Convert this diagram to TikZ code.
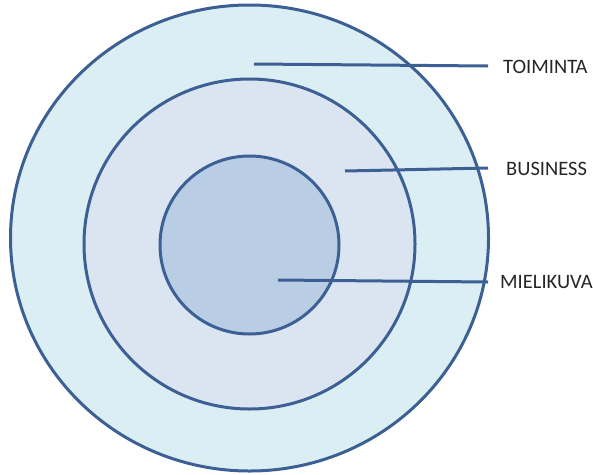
\documentclass[tikz,border=0pt]{standalone}
\usepackage{fontspec}
\setmainfont{Carlito}
\usetikzlibrary{shapes.geometric}
\definecolor{ringline}{HTML}{3D6094}
\definecolor{outerfill}{HTML}{DAEEF3}
\definecolor{midfill}{HTML}{DBE5F1}
\definecolor{innerfill}{HTML}{B9CDE5}
\tikzset{
  ring/.style={draw=ringline, line width=3pt},
  leader/.style={draw=ringline, line width=3pt},
  lbl/.style={anchor=west, inner sep=0pt, font=\fontsize{20.5}{24}\selectfont, text=black!85}
}
\begin{document}
\begin{tikzpicture}[x=1pt,y=-1pt]
\useasboundingbox (0,0) rectangle (593,474);
\fill[white] (0,0) rectangle (593,474);
\draw[ring, fill=outerfill] (249.5,238) ellipse [x radius=239, y radius=233];
\draw[ring, fill=midfill] (249.5,244) ellipse [x radius=165.5, y radius=165];
\draw[ring, fill=innerfill] (249.5,245) ellipse [x radius=89.5, y radius=89];
\node[lbl] (t) at (503,67) {TOIMINTA};
\node[lbl] (b) at (506,169) {BUSINESS};
\node[lbl] (m) at (500,282) {MIELIKUVA};
\coordinate (ts) at (254,64);
\coordinate (te) at (488,66);
\coordinate (bs) at (345,171);
\coordinate (be) at (488,168);
\coordinate (ms) at (278,280);
\coordinate (me) at (488,282);
\draw[leader] (ts) -- (te);
\draw[leader] (bs) -- (be);
\draw[leader] (ms) -- (me);
\end{tikzpicture}
\end{document}
